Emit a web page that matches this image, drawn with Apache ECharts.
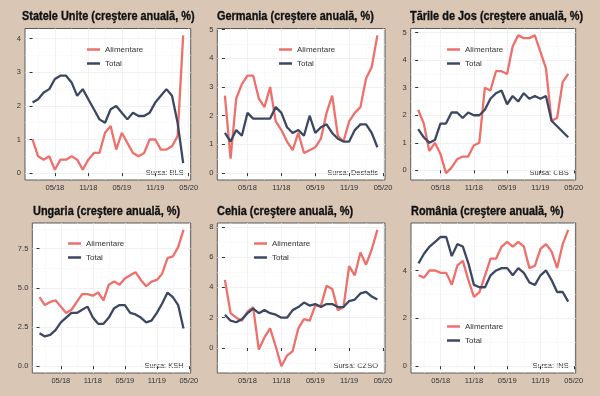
<!DOCTYPE html>
<html><head><meta charset="utf-8">
<script src="https://cdn.jsdelivr.net/npm/echarts@6/dist/echarts.min.js"></script>
<style>html,body{margin:0;padding:0;background:#d9c6b5}#c{width:600px;height:396px}</style>
</head><body><div id="c"></div>
<script>
// month index 0 = 01/2018 ... 27 = 04/2020
const xTickPos = [4, 10, 16, 22, 28];
const xTickLabels = ['05/18', '11/18', '05/19', '11/19', '05/20'];
const xMinorPos = [1, 7, 13, 19, 25];
const seriesNames = ['Alimentare', 'Total'];

const usFood  = [1.0,0.5,0.4,0.5,0.1,0.4,0.4,0.5,0.4,0.1,0.4,0.6,0.6,1.2,1.4,0.7,1.2,0.9,0.6,0.5,0.6,1.0,1.0,0.7,0.7,0.8,1.1,4.1];
const usTotal = [2.1,2.2,2.4,2.5,2.8,2.9,2.9,2.7,2.3,2.5,2.2,1.9,1.6,1.5,1.9,2.0,1.8,1.6,1.8,1.7,1.7,1.8,2.1,2.3,2.5,2.3,1.5,0.3];

const deFood  = [2.7,0.5,2.6,3.1,3.4,3.4,2.6,2.3,3.0,1.8,1.5,1.1,0.8,1.4,0.7,0.8,0.9,1.2,2.1,2.7,1.3,1.1,1.8,2.1,2.3,3.3,3.7,4.8];
const deTotal = [1.4,1.1,1.5,1.3,2.1,1.9,1.9,1.9,1.9,2.3,2.1,1.6,1.4,1.5,1.3,2.0,1.4,1.6,1.7,1.4,1.2,1.1,1.1,1.5,1.7,1.7,1.4,0.9];

const nlFood  = [2.2,1.7,0.7,1.0,0.6,-0.1,0.1,0.4,0.5,0.5,0.9,1.0,3.0,2.9,3.6,3.6,3.5,4.5,4.9,4.8,4.8,4.9,4.3,3.7,1.8,1.9,3.2,3.5];
const nlTotal = [1.5,1.2,1.0,1.1,1.7,1.7,2.1,2.1,1.9,2.1,2.0,2.0,2.2,2.6,2.8,2.9,2.4,2.7,2.5,2.8,2.6,2.7,2.6,2.7,1.8,1.6,1.4,1.2];

const huFood  = [4.4,3.9,4.1,4.2,3.8,3.4,3.6,4.1,4.6,4.6,4.5,4.7,4.2,5.2,5.4,5.2,5.6,5.8,6.0,5.5,5.1,5.4,5.5,5.9,6.9,7.0,7.6,8.7];
const huTotal = [2.1,1.9,2.0,2.3,2.8,3.1,3.4,3.4,3.6,3.8,3.1,2.7,2.7,3.1,3.7,3.9,3.9,3.4,3.3,3.1,2.8,2.9,3.4,4.0,4.7,4.4,3.9,2.4];

const czFood  = [4.5,2.3,2.0,1.8,2.4,2.7,-0.1,0.7,1.3,0.1,-1.2,-0.5,-0.2,1.3,1.9,1.8,2.8,2.8,4.1,3.9,2.5,2.7,5.4,4.8,6.3,5.5,6.5,7.8];
const czTotal = [2.2,1.8,1.7,1.9,2.3,2.6,2.3,2.5,2.3,2.2,2.0,2.0,2.5,2.7,3.0,2.8,2.9,2.7,2.9,2.9,2.7,2.7,3.1,3.2,3.6,3.7,3.4,3.2];

const roFood  = [3.8,3.7,4.0,4.0,3.9,3.9,3.4,4.2,4.4,3.6,2.9,3.1,3.8,4.5,4.5,5.0,5.2,5.0,5.2,5.0,4.1,4.2,4.9,5.1,4.8,4.1,5.1,5.7];
const roTotal = [4.3,4.7,5.0,5.2,5.4,5.4,4.6,5.1,5.0,4.3,3.4,3.3,3.3,3.8,4.0,4.1,4.1,3.8,4.1,3.9,3.5,3.4,3.8,4.0,3.6,3.1,3.1,2.7];

const titles = ['Statele Unite (creştere anuală, %)','Germania (creştere anuală, %)','Ţările de Jos (creştere anuală, %)',
                'Ungaria (creştere anuală, %)','Cehia (creştere anuală, %)','România (creştere anuală, %)'];
const sources = ['Sursa: BLS','Sursa: Destatis','Sursa: CBS','Sursa: KSH','Sursa: CZSO','Sursa: INS'];
const foodSets  = [usFood, deFood, nlFood, huFood, czFood, roFood];
const totalSets = [usTotal, deTotal, nlTotal, huTotal, czTotal, roTotal];
const yTicks = [[0,1,2,3,4],[0,1,2,3,4,5],[0,1,2,3,4,5],[0,2.5,5,7.5],[0,2,4,6,8],[0,2,4]];
const yMinor = [[0.5,1.5,2.5,3.5],[0.5,1.5,2.5,3.5,4.5],[0.5,1.5,2.5,3.5,4.5],[1.25,3.75,6.25,8.75],[-1,1,3,5,7],[1,3,5]];

// layout (pixels)
const layout = [
  {l:25,    t:28.5, w:165.7, h:151.5, ymin:-0.205, ymax:4.305, lg:[82,40.5],  tx:22,  ty:16.5},
  {l:217.3, t:28.5, w:167.7, h:151.5, ymin:-0.24,  ymax:5.04,  lg:[274,40.5], tx:217, ty:16.5},
  {l:410.7, t:28.5, w:165,   h:151.5, ymin:-0.35,  ymax:5.15,  lg:[442,40.5], tx:410, ty:16.5},
  {l:32.3,  t:223,  w:158.4, h:150,   ymin:-0.435, ymax:9.135, lg:[63,234.5], tx:33,  ty:211.5},
  {l:217.3, t:223,  w:167.7, h:150,   ymin:-1.65,  ymax:8.25,  lg:[249,234.5],tx:217, ty:211.5},
  {l:411,   t:223,  w:164.7, h:150,   ymin:-0.285, ymax:5.985, lg:[442,317.5],tx:411, ty:211.5}
];
const FONT = "'Liberation Sans',Arial,sans-serif";
const RED = '#ef6f6b', NAVY = '#3c4862';

const option = {
  backgroundColor: '#d9c6b5',
  animation: false,
  legend: [], grid: [], xAxis: [], yAxis: [], series: [], graphic: []
};

layout.forEach((L, p) => {
  option.graphic.push({type: 'text', x: L.tx, y: L.ty, scaleX: 0.81, scaleY: 1,
    style: {text: titles[p], font: 'bold 13.5px ' + FONT, fill: '#111', stroke: '#111', lineWidth: 0.35,
      align: 'left', verticalAlign: 'middle'}});
  option.grid.push({left: L.l, top: L.t, width: L.w, height: L.h, show: true,
    backgroundColor: '#ffffff', borderColor: '#5a5a5a', borderWidth: 1});
  option.legend.push({data: seriesNames, orient: 'vertical', left: L.lg[0], top: L.lg[1],
    icon: 'rect', itemWidth: 13, itemHeight: 2.5, itemGap: 6,
    textStyle: {fontFamily: FONT, fontSize: 8, color: '#333'}});
  // major x
  option.xAxis.push({type: 'value', gridIndex: p, min: -1.35, max: 28.35,
    axisLine: {show: false},
    axisTick: {show: true, length: 3, lineStyle: {color: '#333'}, customValues: xTickPos},
    axisLabel: {customValues: xTickPos, fontFamily: FONT, fontSize: 7.5, color: '#333', margin: 4,
      formatter: v => xTickLabels[xTickPos.indexOf(Math.round(v))] || ''},
    splitLine: {show: true, lineStyle: {color: '#eeeeee', width: 0.8}}});
  // minor x
  option.xAxis.push({type: 'value', gridIndex: p, min: -1.35, max: 28.35, position: 'bottom',
    axisLine: {show: false}, axisTick: {show: false, customValues: xMinorPos},
    axisLabel: {show: false, customValues: xMinorPos},
    splitLine: {show: true, lineStyle: {color: '#f6f6f6', width: 0.6}}});
  const dec = p === 3 ? 1 : 0;
  option.yAxis.push({type: 'value', gridIndex: p, min: L.ymin, max: L.ymax,
    axisLine: {show: false},
    axisTick: {show: true, length: 3, lineStyle: {color: '#333'}, customValues: yTicks[p]},
    axisLabel: {customValues: yTicks[p], fontFamily: FONT, fontSize: 7.5, color: '#333', margin: 4,
      formatter: v => v.toFixed(dec)},
    splitLine: {show: true, lineStyle: {color: '#eeeeee', width: 0.8}}});
  option.yAxis.push({type: 'value', gridIndex: p, min: L.ymin, max: L.ymax, position: 'left',
    axisLine: {show: false}, axisTick: {show: false, customValues: yMinor[p]},
    axisLabel: {show: false, customValues: yMinor[p]},
    splitLine: {show: true, lineStyle: {color: '#f6f6f6', width: 0.6}}});
  [[foodSets[p], RED, seriesNames[0]], [totalSets[p], NAVY, seriesNames[1]]].forEach(([arr, col, nm]) => {
    option.series.push({type: 'line', name: nm, xAxisIndex: 2 * p, yAxisIndex: 2 * p,
      data: arr.map((v, i) => [i, v]), showSymbol: false, symbol: 'none',
      color: col, lineStyle: {color: col, width: 2.3}, itemStyle: {color: col}});
  });
  option.graphic.push({type: 'text', x: L.l + L.w - 7, y: L.t + L.h - 7,
    style: {text: sources[p], align: 'right', verticalAlign: 'middle',
      font: '7.5px ' + FONT, fill: '#333'}});
});

const chart = echarts.init(document.getElementById('c'), null, {renderer: 'canvas'});
chart.setOption(option);
</script></body></html>
